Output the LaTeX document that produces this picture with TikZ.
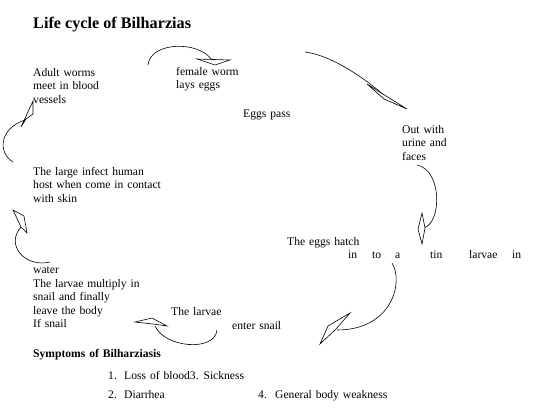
\documentclass[tikz,border=0pt]{standalone}
\usepackage{fontspec}
\setmainfont{Liberation Serif}
\newcommand{\bodyfnt}{\fontsize{11.6}{13.5}\selectfont\spaceskip=3.9pt\relax}
\begin{document}
\begin{tikzpicture}[x=1pt,y=-1pt,
  txt/.style={anchor=base west,inner sep=0pt,font=\bodyfnt},
  bold/.style={anchor=base west,inner sep=0pt,font=\bodyfnt\bfseries},
  ttl/.style={anchor=base west,inner sep=0pt,font=\fontsize{16.2}{18}\selectfont\bfseries},
  curv/.style={draw=black,line width=0.6pt},
  headshape/.style={draw=black,fill=white,line width=0.6pt,line join=miter}]
\useasboundingbox (0,0) rectangle (540,410);
% texts
\node[ttl] (title) at (33,28.5) {Life cycle of Bilharzias};
\node[txt] (a1) at (33,76) {Adult worms};
\node[txt] (a2) at (33,89.5) {meet in blood};
\node[txt] (a3) at (33,103) {vessels};
\node[txt] (b1) at (176,75) {female worm};
\node[txt] (b2) at (176,88.5) {lays eggs};
\node[txt] (c1) at (243,117) {Eggs pass};
\node[txt] (d1) at (402,133) {Out with};
\node[txt] (d2) at (402,146.5) {urine and};
\node[txt] (d3) at (402,160) {faces};
\node[txt] (e1) at (33,175) {The large infect human};
\node[txt] (e2) at (33,188.5) {host when come in contact};
\node[txt] (e3) at (33,202) {with skin};
\node[txt] (h1) at (287,245) {The eggs hatch};
\node[txt] (h2) at (348,258) {\rlap{in}\hspace{24pt}\rlap{to}\hspace{23pt}\rlap{a}\hspace{35pt}\rlap{tin}\hspace{39pt}\rlap{larvae}\hspace{43pt}in};
\node[txt] (f1) at (33,273) {water};
\node[txt] (f2) at (33,287) {The larvae multiply in};
\node[txt] (f3) at (33,300) {snail and finally};
\node[txt] (f4) at (33,314) {leave the body};
\node[txt] (f5) at (33,327.5) {If snail};
\node[txt] (g1) at (171,315) {The larvae};
\node[txt] (g2) at (232,329) {enter snail};
\node[bold] (s0) at (33,357) {Symptoms of Bilharziasis};
\node[txt] (n1) at (108,379) {1.};
\node[txt] (s1) at (124,379) {Loss of blood3. Sickness};
\node[txt] (n2) at (108,398) {2.};
\node[txt] (s2) at (124,398) {Diarrhea};
\node[txt] (n4) at (258,398) {4.};
\node[txt] (s4) at (275,398) {General body weakness};
% arrow A: to adult worms
\coordinate (A0) at (13,162); \coordinate (A1) at (25,120);
\draw[curv] (A0) .. controls (-3,152) and (0,128) .. (A1);
\draw[headshape] (33,101) -- (21,127) -- (26,119) -- (33,114) -- cycle;
% arrow B: to female worm
\coordinate (B0) at (148,65); \coordinate (B1) at (212,60);
\draw[curv] (B0) .. controls (150,42) and (198,40) .. (B1);
\draw[headshape] (197,59) -- (230,60) -- (215,65) -- cycle;
% arrow C: to out with
\coordinate (C0) at (305,52); \coordinate (C1) at (385,96);
\draw[curv] (C0) .. controls (330,55) and (362,76) .. (C1);
\draw[headshape] (367,84) -- (386,96) -- (407,109) -- (384,99) -- cycle;
% arrow D: to eggs hatch
\coordinate (D0) at (417,165); \coordinate (D1) at (424,228);
\draw[curv] (D0) .. controls (442,170) and (442,222) .. (D1);
\draw[headshape] (422,213) -- (418,229) -- (422,244) -- (425,228) -- cycle;
% arrow E: to larvae enter snail
\coordinate (E0) at (392,263); \coordinate (E1) at (337,330);
\draw[curv] (E0) .. controls (404,282) and (392,330) .. (E1);
\draw[headshape] (350,313) -- (328,326) -- (320,344) -- (336,329) -- cycle;
% arrow F: to larvae multiply
\coordinate (F0) at (217,330); \coordinate (F1) at (155,326);
\draw[curv] (F0) .. controls (215,352) and (165,348) .. (F1);
\draw[headshape] (135,322) -- (152,318) -- (167,326) -- (153,324) -- cycle;
% arrow G: to large infect
\coordinate (G0) at (50,262); \coordinate (G1) at (21,227);
\draw[curv] (G0) .. controls (25,268) and (5,245) .. (G1);
\draw[headshape] (13,210) -- (24,216) -- (27,233) -- (21,227) -- cycle;
\end{tikzpicture}
\end{document}
